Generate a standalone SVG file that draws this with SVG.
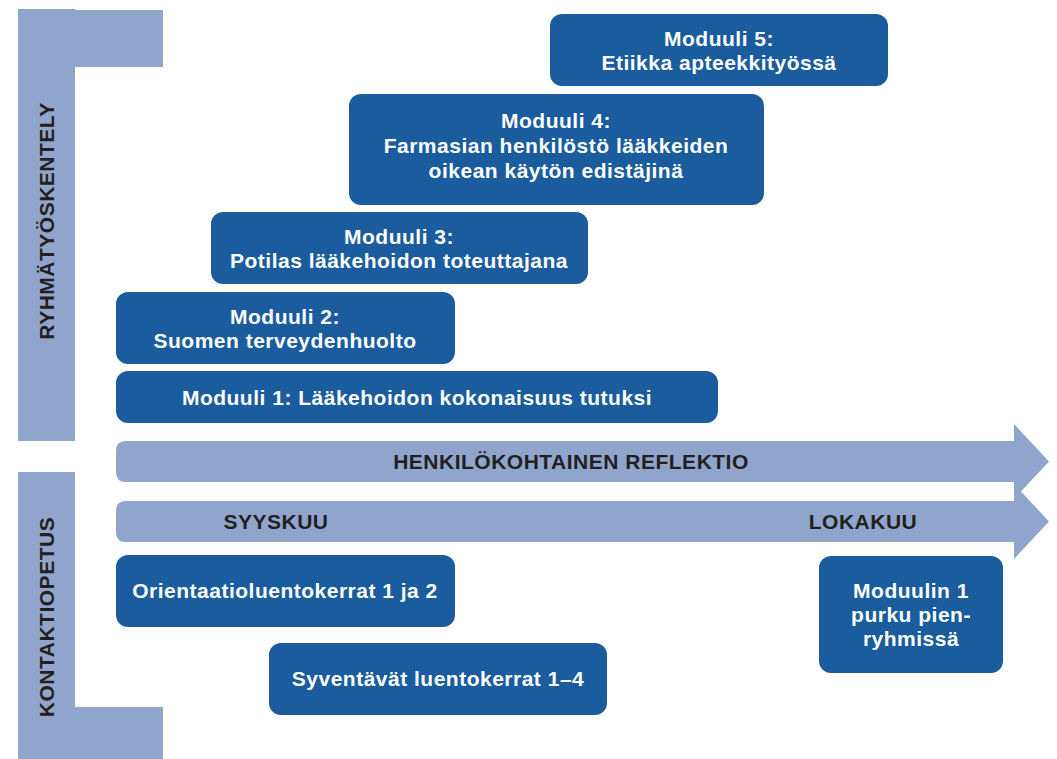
<svg xmlns="http://www.w3.org/2000/svg" width="1057" height="759" viewBox="0 0 1057 759">
<style>
.dark{fill:#1a5c9e}
.light{fill:#8fa5cc}
.wt{fill:#ffffff;font-family:"Liberation Sans",Arial,sans-serif;font-weight:700;font-size:21px;letter-spacing:0.5px;text-anchor:middle}
.bt{fill:#231f20;font-family:"Liberation Sans",Arial,sans-serif;font-weight:700;font-size:21px;letter-spacing:0.5px;text-anchor:middle}
</style>
<rect width="1057" height="759" fill="#ffffff"/>
<g id="bracket-top">
<path class="light" d="M18 9 H75 V10 H163 V67 H75 V441 H18 Z"/>
<text class="bt" transform="translate(54 221) rotate(-90)">RYHMÄTYÖSKENTELY</text>
</g>
<g id="bracket-bottom">
<path class="light" d="M18 472 H75 V707 H163 V759 H18 Z"/>
<text class="bt" transform="translate(54 617) rotate(-90)">KONTAKTIOPETUS</text>
</g>
<g id="connectors">
<g id="arrow-reflektio">
<path class="light" d="M126 441 H1014 V424 L1049 461.5 L1014 499 V482 H126 Q116 482 116 472 V451 Q116 441 126 441 Z"/>
<text class="bt" x="571" y="469">HENKILÖKOHTAINEN REFLEKTIO</text>
</g>
<g id="arrow-aika">
<path class="light" d="M126 501 H1014 V484 L1049 521.5 L1014 559 V542 H126 Q116 542 116 532 V511 Q116 501 126 501 Z"/>
<text class="bt" x="276" y="529">SYYSKUU</text>
<text class="bt" x="863" y="529">LOKAKUU</text>
</g>
</g>
<g id="moduuli5">
<rect class="dark" x="550" y="14" width="338" height="72" rx="12"/>
<text class="wt" x="719" y="46">Moduuli 5:</text>
<text class="wt" x="719" y="70">Etiikka apteekkityössä</text>
</g>
<g id="moduuli4">
<rect class="dark" x="349" y="94" width="415" height="111" rx="12"/>
<text class="wt" x="556" y="128">Moduuli 4:</text>
<text class="wt" x="556" y="153">Farmasian henkilöstö lääkkeiden</text>
<text class="wt" x="556" y="178">oikean käytön edistäjinä</text>
</g>
<g id="moduuli3">
<rect class="dark" x="211" y="212" width="377" height="72" rx="12"/>
<text class="wt" x="399" y="244">Moduuli 3:</text>
<text class="wt" x="399" y="268">Potilas lääkehoidon toteuttajana</text>
</g>
<g id="moduuli2">
<rect class="dark" x="116" y="292" width="339" height="72" rx="12"/>
<text class="wt" x="285" y="324">Moduuli 2:</text>
<text class="wt" x="285" y="348">Suomen terveydenhuolto</text>
</g>
<g id="moduuli1">
<rect class="dark" x="116" y="371" width="602" height="52" rx="12"/>
<text class="wt" x="417" y="405">Moduuli 1: Lääkehoidon kokonaisuus tutuksi</text>
</g>
<g id="orientaatio">
<rect class="dark" x="116" y="555" width="339" height="72" rx="12"/>
<text class="wt" x="285" y="598">Orientaatioluentokerrat 1 ja 2</text>
</g>
<g id="syventavat">
<rect class="dark" x="269" y="643" width="338" height="72" rx="12"/>
<text class="wt" x="438" y="686">Syventävät luentokerrat 1–4</text>
</g>
<g id="purku">
<rect class="dark" x="819" y="556" width="184" height="117" rx="12"/>
<text class="wt" x="911" y="598">Moduulin 1</text>
<text class="wt" x="911" y="622">purku pien-</text>
<text class="wt" x="911" y="646">ryhmissä</text>
</g>
</svg>
